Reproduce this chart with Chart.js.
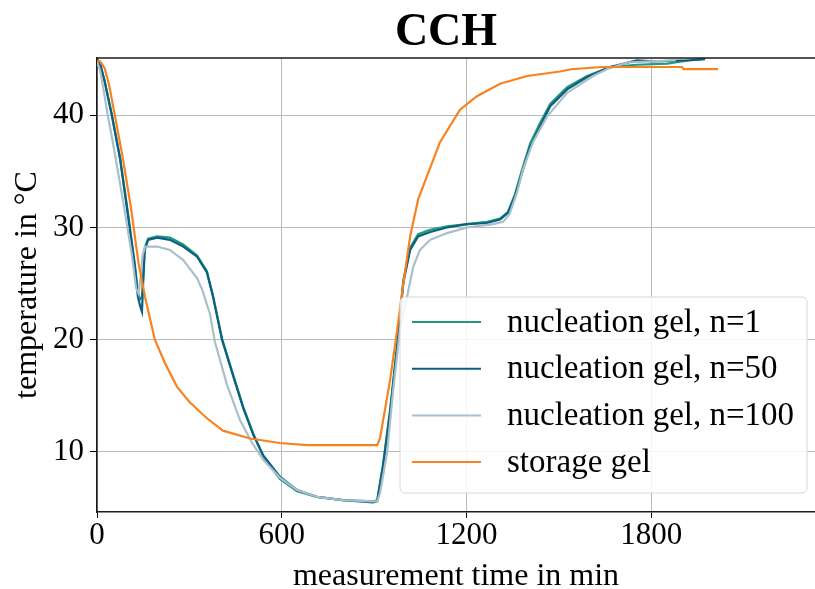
<!DOCTYPE html>
<html>
<head>
<meta charset="utf-8">
<script src="https://cdn.jsdelivr.net/npm/chart.js@4.4.1/dist/chart.umd.min.js"></script>
<style>
  html, body { margin: 0; padding: 0; background: #fff; }
  #wrap { width: 815px; height: 589px; position: relative; }
</style>
</head>
<body>
<div id="wrap"><canvas id="chart"></canvas></div>
<script>
// series labels and colours
const seriesNames = ['nucleation gel, n=1', 'nucleation gel, n=50', 'nucleation gel, n=100', 'storage gel'];
const seriesColors = ['#1f9a7c', '#0c5f80', '#a9bfcc', '#f7821f'];

// values (time in min, temperature in °C)
const timeN1 = [0, 10, 25, 48, 75, 101, 123, 133, 140, 146, 150, 155, 166, 195, 237, 280, 325, 357, 377, 390, 406, 443, 475, 508, 540, 594, 650, 714, 799, 897, 910, 929, 952, 975, 995, 1017, 1043, 1082, 1137, 1202, 1267, 1309, 1335, 1358, 1381, 1407, 1439, 1472, 1527, 1592, 1666, 1754, 1852, 1926, 1965];
const tempN1 = [45.0, 44.6, 43.0, 40.1, 36.2, 31.2, 26.7, 24.2, 23.6, 23.8, 25.6, 28.2, 29.0, 29.2, 29.1, 28.5, 27.5, 26.1, 23.9, 22.2, 20.1, 16.8, 14.0, 11.6, 9.6, 7.6, 6.5, 6.0, 5.7, 5.6, 5.7, 8.9, 13.8, 19.6, 25.3, 28.2, 29.4, 29.8, 30.1, 30.3, 30.5, 30.8, 31.4, 33.0, 35.2, 37.5, 39.3, 41.0, 42.5, 43.5, 44.3, 44.5, 44.6, 44.9, 45.0];

const timeN50 = [0, 10, 25, 48, 75, 101, 123, 133, 140, 146, 150, 155, 166, 195, 237, 280, 325, 357, 377, 390, 406, 443, 475, 508, 540, 594, 650, 714, 799, 897, 910, 929, 952, 975, 995, 1017, 1043, 1082, 1137, 1202, 1267, 1309, 1335, 1358, 1381, 1407, 1439, 1472, 1527, 1592, 1666, 1754, 1806, 1926, 1975];
const tempN50 = [45.0, 44.6, 43.0, 40.0, 36.1, 31.0, 26.5, 23.8, 23.0, 22.5, 25.1, 28.0, 28.9, 29.1, 28.9, 28.3, 27.4, 26.0, 23.8, 22.1, 20.0, 16.7, 13.9, 11.5, 9.7, 7.8, 6.6, 6.0, 5.7, 5.5, 5.6, 8.7, 13.5, 19.4, 25.1, 28.0, 29.2, 29.6, 30.0, 30.3, 30.4, 30.7, 31.3, 32.8, 34.9, 37.2, 39.0, 40.8, 42.3, 43.4, 44.3, 44.9, 44.8, 44.9, 45.0];

const timeN100 = [0, 10, 20, 35, 52, 85, 113, 127, 135, 142, 148, 156, 195, 237, 280, 325, 341, 367, 383, 422, 465, 504, 540, 594, 650, 714, 799, 897, 910, 919, 942, 962, 984, 1007, 1027, 1049, 1082, 1137, 1202, 1287, 1319, 1340, 1364, 1384, 1416, 1462, 1527, 1611, 1656, 1722, 1800, 1880];
const tempN100 = [44.7, 44.0, 42.5, 40.0, 37.5, 32.3, 27.6, 24.6, 24.1, 25.6, 27.5, 28.3, 28.3, 28.0, 27.1, 25.5, 24.5, 22.3, 19.8, 16.0, 12.8, 10.8, 9.3, 7.7, 6.6, 6.0, 5.7, 5.6, 5.6, 6.3, 9.9, 15.5, 20.9, 23.8, 26.5, 28.0, 28.9, 29.5, 30.0, 30.3, 30.5, 31.2, 33.1, 35.2, 37.6, 39.9, 42.0, 43.5, 44.1, 44.7, 44.8, 44.9];

const timeStorage = [0, 10, 25, 40, 58, 85, 110, 135, 156, 188, 221, 260, 302, 357, 409, 497, 594, 682, 800, 910, 919, 952, 975, 995, 1017, 1043, 1072, 1114, 1179, 1234, 1309, 1397, 1504, 1540, 1640, 1900, 1905, 2017];
const tempStorage = [44.8, 44.8, 44.2, 42.6, 40.0, 36.0, 31.8, 26.8, 23.8, 20.0, 17.9, 15.8, 14.4, 13.0, 11.9, 11.2, 10.8, 10.6, 10.6, 10.6, 11.2, 16.4, 20.9, 25.0, 29.2, 32.5, 34.6, 37.6, 40.5, 41.7, 42.8, 43.5, 43.9, 44.1, 44.3, 44.3, 44.1, 44.1];

// axis ticks
const xTicks = [0, 600, 1200, 1800];
const yTicks = [10, 20, 30, 40];

const seriesTimes = [timeN1, timeN50, timeN100, timeStorage];
const seriesTemps = [tempN1, tempN50, tempN100, tempStorage];

function toPoints(xs, ys) {
    return xs.map((x, i) => ({ x: x, y: ys[i] }));
}

const SERIF = "'Liberation Serif', 'Times New Roman', serif";

// title drawn over the axes like the source figure
const titlePlugin = {
    id: 'figTitle',
    afterDraw(chart) {
        const ctx = chart.ctx;
        ctx.save();
        ctx.fillStyle = '#000';
        ctx.font = 'bold 46px ' + SERIF;
        ctx.textAlign = 'center';
        ctx.textBaseline = 'alphabetic';
        ctx.fillText('CCH', 446, 45);
        ctx.restore();
    }
};

// top spine
const framePlugin = {
    id: 'frame',
    afterDatasetsDraw(chart) {
        const a = chart.chartArea;
        const ctx = chart.ctx;
        ctx.save();
        ctx.strokeStyle = '#1a1a1a';
        ctx.lineWidth = 1.6;
        ctx.beginPath();
        ctx.moveTo(a.left, a.top);
        ctx.lineTo(a.right, a.top);
        ctx.stroke();
        ctx.restore();
    }
};

// legend box inside the axes, lower right
const legendPlugin = {
    id: 'boxLegend',
    afterDraw(chart) {
        const ctx = chart.ctx;
        const bx = 400, by = 297, bw = 407, bh = 196, r = 5;
        ctx.save();
        ctx.beginPath();
        ctx.moveTo(bx + r, by);
        ctx.arcTo(bx + bw, by, bx + bw, by + bh, r);
        ctx.arcTo(bx + bw, by + bh, bx, by + bh, r);
        ctx.arcTo(bx, by + bh, bx, by, r);
        ctx.arcTo(bx, by, bx + bw, by, r);
        ctx.closePath();
        ctx.fillStyle = 'rgba(255,255,255,0.85)';
        ctx.fill();
        ctx.strokeStyle = '#d6d6d6';
        ctx.lineWidth = 1;
        ctx.stroke();
        ctx.font = '33px ' + SERIF;
        ctx.textBaseline = 'middle';
        ctx.fillStyle = '#000';
        chart.data.datasets.forEach((ds, i) => {
            const y = 322 + i * 46.7;
            ctx.strokeStyle = ds.borderColor;
            ctx.lineWidth = 2;
            ctx.beginPath();
            ctx.moveTo(412, y);
            ctx.lineTo(481, y);
            ctx.stroke();
            ctx.fillText(ds.label, 507, y + 1);
        });
        ctx.restore();
    }
};

const datasets = seriesNames.map((name, i) => ({
    label: name,
    data: toPoints(seriesTimes[i], seriesTemps[i]),
    borderColor: seriesColors[i],
    backgroundColor: seriesColors[i],
    borderWidth: 2.2,
    pointRadius: 0,
    tension: 0,
    fill: false,
    order: seriesNames.length - i
}));

new Chart(document.getElementById('chart'), {
    type: 'line',
    data: { datasets: datasets },
    options: {
        responsive: true,
        maintainAspectRatio: false,
        animation: false,
        layout: { padding: { top: 58, right: 0, bottom: 0, left: 0 } },
        plugins: {
            legend: { display: false },
            title: { display: false },
            tooltip: { enabled: false }
        },
        scales: {
            x: {
                type: 'linear',
                min: 0,
                max: 2332,
                afterBuildTicks(scale) {
                    scale.ticks = xTicks.map(v => ({ value: v }));
                },
                afterFit(scale) { scale.height = 77; },
                ticks: {
                    color: '#000',
                    font: { family: SERIF, size: 31, lineHeight: 1 },
                    padding: 2,
                    maxRotation: 0,
                    callback: (v) => String(v)
                },
                grid: {
                    color: '#b8b8b8',
                    lineWidth: 1,
                    tickColor: '#000',
                    tickLength: 6
                },
                border: { color: '#1a1a1a', width: 1.6 },
                title: {
                    display: true,
                    text: 'measurement time in min',
                    color: '#000',
                    font: { family: SERIF, size: 32, lineHeight: 0.8 },
                    padding: { top: 0, bottom: 0 }
                }
            },
            y: {
                type: 'linear',
                min: 4.65,
                max: 45.1,
                afterBuildTicks(scale) {
                    scale.ticks = yTicks.map(v => ({ value: v }));
                },
                afterFit(scale) { scale.width = 97; },
                ticks: {
                    color: '#000',
                    font: { family: SERIF, size: 31 },
                    padding: 6,
                    callback: (v) => String(v)
                },
                grid: {
                    color: '#b8b8b8',
                    lineWidth: 1,
                    tickColor: '#000',
                    tickLength: 7
                },
                border: { color: '#1a1a1a', width: 1.6 },
                title: {
                    display: true,
                    text: 'temperature in °C',
                    color: '#000',
                    font: { family: SERIF, size: 32 },
                    padding: { top: 8, bottom: 0 }
                }
            }
        }
    },
    plugins: [framePlugin, legendPlugin, titlePlugin]
});
</script>
</body>
</html>
